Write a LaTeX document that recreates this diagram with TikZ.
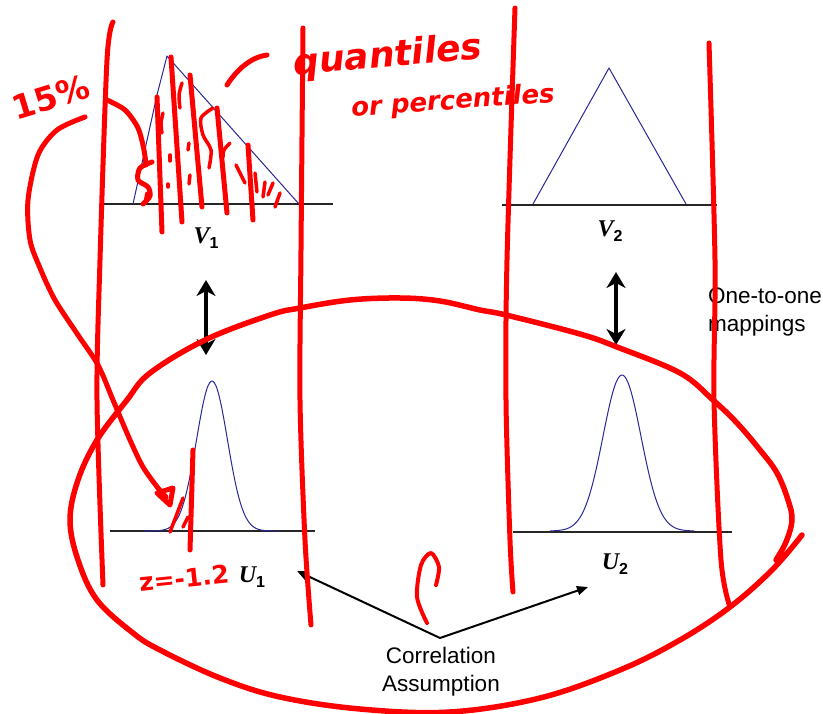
\documentclass[tikz,border=0pt]{standalone}
\usepackage{fontspec}
\setmainfont{Liberation Sans}
\newfontfamily\tnrfont{Liberation Serif}
\newfontfamily\handfont{DejaVu Sans}
\usetikzlibrary{arrows.meta}
\definecolor{curveblue}{RGB}{40,40,150}
\definecolor{penred}{RGB}{255,0,0}
\begin{document}
\begin{tikzpicture}[x=1pt,y=-1pt,
  axisline/.style={draw=black!85, line width=1.3pt},
  curveline/.style={draw=curveblue, line width=1pt, line join=round},
  maparrow/.style={draw=black, line width=4.5pt,
     {Stealth[length=16pt,width=19pt,inset=5pt]}-{Stealth[length=16pt,width=19pt,inset=5pt]}},
  corrarrow/.style={draw=black, line width=2pt, -{Triangle[length=11pt,width=9pt]}},
  pen/.style={draw=penred, line width=5pt, line cap=round, line join=round},
  thinpen/.style={pen, line width=3.5pt},
  hand/.style={text=penred, inner sep=0pt, font=\handfont\bfseries\itshape},
  varlabel/.style={inner sep=0pt, font=\fontsize{24}{24}\selectfont\bfseries},
  bodytext/.style={inner sep=0pt, font=\fontsize{22.5}{28}\selectfont}
]
\useasboundingbox (0,0) rectangle (823,714);
\fill[white] (0,0) rectangle (823,714);

% ---------- V1 plot ----------
\draw[axisline] (102,204) -- (333,204);
\draw[curveline] (133,204) -- (157,95) -- (167,56) -- (299,204);
\node[varlabel] (v1lab) at (206,238) {{\tnrfont\itshape V}\raisebox{-5pt}{\fontsize{16}{16}\selectfont 1}};

% ---------- V2 plot ----------
\draw[axisline] (502,205) -- (717,205);
\draw[curveline] (533,204) -- (609,68) -- (686,204);
\node[varlabel] (v2lab) at (610,231) {{\tnrfont\itshape V}\raisebox{-5pt}{\fontsize{16}{16}\selectfont 2}};

% ---------- U1 plot ----------
\draw[axisline] (110,531) -- (315,531);
\draw[curveline] plot[domain=-68:68, samples=90, smooth]
   ({212+\x}, {531-150*exp(-(\x*\x)/480.5)});
\node[varlabel] (u1lab) at (252,577) {{\tnrfont\itshape U}\raisebox{-5pt}{\fontsize{16}{16}\selectfont 1}};

% ---------- U2 plot ----------
\draw[axisline] (513,532) -- (732,532);
\draw[curveline] plot[domain=-72:72, samples=90, smooth]
   ({622+\x}, {531-156*exp(-(\x*\x)/722)});
\node[varlabel] (u2lab) at (615,564) {{\tnrfont\itshape U}\raisebox{-5pt}{\fontsize{16}{16}\selectfont 2}};

% ---------- mapping arrows ----------
\coordinate (m1top) at (206,280);
\coordinate (m1bot) at (206,355);
\coordinate (m2top) at (616,272);
\coordinate (m2bot) at (616,345);
\draw[maparrow] (m1top) -- (m1bot);
\draw[maparrow] (m2top) -- (m2bot);
\node[bodytext, anchor=north west, align=left] (onetoone) at (708,288) {One-to-one\\mappings};

% ---------- correlation ----------
\node[bodytext, align=center] (corr) at (441,672) {Correlation\\Assumption};
\coordinate (corrvertex) at (440,638);
\coordinate (u1tip) at (297,571);
\coordinate (u2tip) at (588,587);
\draw[corrarrow] (corrvertex) -- (u1tip);
\draw[corrarrow] (corrvertex) -- (u2tip);

% ---------- red annotations ----------
% vertical strokes
\draw[pen] plot[smooth] coordinates {(113,22) (107,60) (100,260) (97,400) (103,585)};
\draw[pen] plot[smooth] coordinates {(303,28) (301,250) (300,400) (305,540) (311,625)};
\draw[pen] plot[smooth] coordinates {(515,8) (507,260) (506,400) (510,540) (513,592)};
\draw[pen] plot[smooth] coordinates {(709,43) (715,260) (714,400) (721,560) (730,607)};

% big loop
\draw[pen, line width=5.5pt] plot[smooth, tension=0.6] coordinates {
 (776,560) (786,542) (792,520) (788,500) (777,473) (760,450) (737,423) (713,400)
 (680,373) (617,347) (580,334) (506,315) (480,310) (440,301) (400,298) (350,300)
 (300,308) (270,315) (205,340) (150,373) (127,400) (97,440) (78,480) (70,520)
 (78,560) (97,600) (133,633) (160,650) (220,678) (280,697) (360,709) (450,712)
 (540,698) (620,670) (680,640) (730,607) (772,570) (802,535)};

% hatching in V1
\draw[pen] plot[smooth] coordinates {(107,100) (125,110) (138,128) (144,150) (146,165)};
\draw[pen] plot[smooth] coordinates {(152,162) (140,168) (138,180) (148,187) (150,196) (143,204)};
\draw[pen] (157,97) -- (162,232);
\draw[pen] (171,57) -- (182,222);
\draw[pen] (190,75) -- (202,207);
\draw[pen] (217,108) -- (227,213);
\draw[pen] (248,145) -- (253,220);
\draw[thinpen] plot[smooth] coordinates {(213,108) (201,118) (203,135) (211,150) (209,168)};
\draw[thinpen] plot[smooth] coordinates {(182,83) (179,95) (180,108)};
\draw[thinpen] plot[smooth] coordinates {(163,113) (161,123) (162,133)};
\draw[thinpen] (170,155) -- (170,161);
\draw[thinpen] (189,143) -- (188,150);
\draw[thinpen] (190,175) -- (189,184);
\draw[thinpen] (168,184) -- (168,187);
\draw[thinpen] (147,193) -- (145,203);
\draw[thinpen] plot[smooth] coordinates {(230,143) (224,150) (223,157)};
\draw[thinpen] plot[smooth] coordinates {(236,165) (241,175) (245,183)};
\draw[thinpen] (255,173) -- (257,192);
\draw[thinpen] (265,182) -- (263,197);
\draw[thinpen] (273,183) -- (268,195);
\draw[thinpen] (280,193) -- (275,207);
\draw[pen] (227,85) .. controls (238,68) and (252,57) .. (267,55);

% arrow from 15% to the U1 tail
\draw[pen] plot[smooth] coordinates {(85,117) (57,130) (38,155) (28,200) (30,240) (40,268)
  (55,300) (78,335) (98,365) (113,400) (130,440) (143,467) (158,488) (166,497)};
\draw[pen] (157,493) -- (173,488) -- (170,505) -- cycle;
\draw[thinpen] (170,532) -- (183,498);
\draw[thinpen] (183,527) -- (188,517);
\draw[pen] (193,450) -- (190,550);

% C-shaped stroke
\draw[pen, line width=4pt] plot[smooth] coordinates {(436,585) (439,567) (431,553) (421,565) (417,597) (427,623)};

% handwritten words
\node[hand, rotate=17, font=\handfont\bfseries\fontsize{33}{33}\selectfont] (h15) at (51,97) {15\%};
\node[hand, rotate=5, font=\handfont\bfseries\itshape\fontsize{36}{36}\selectfont] (hq) at (388,57) {quantiles};
\node[hand, rotate=4, font=\handfont\bfseries\itshape\fontsize{26}{26}\selectfont] (hp) at (453,102) {or percentiles};
\node[hand, rotate=6, font=\handfont\bfseries\fontsize{25}{25}\selectfont] (hz) at (184,578) {z=-1.2};
\end{tikzpicture}
\end{document}
